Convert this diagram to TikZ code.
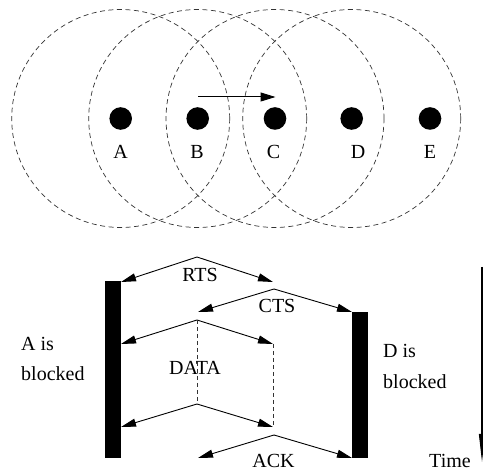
\documentclass[tikz,border=0pt]{standalone}
\usepackage{fontspec}
\setmainfont{Liberation Serif}
\usetikzlibrary{arrows.meta}
\begin{document}
\begin{tikzpicture}[x=1pt,y=-1pt,
  font=\fontsize{20}{30}\selectfont,
  dot/.style={circle,fill=black,inner sep=0pt,minimum size=22.6pt},
  coverage/.style={dash pattern=on 5pt off 3.5pt,line width=0.7pt,draw=black!80},
  lbl/.style={anchor=base,inner sep=0pt},
  lblw/.style={anchor=base west,inner sep=0pt},
  msg/.style={-{Triangle[length=15pt,width=8pt]},line width=0.9pt},
  bar/.style={fill=black,minimum width=16pt,inner sep=0pt},
  hold/.style={dash pattern=on 4pt off 3pt,line width=0.7pt,draw=black!80}]
\useasboundingbox (0,0) rectangle (483,470);

% stations and their transmission ranges
\node[dot] (A) at (120.7,118.5) {};
\node[dot] (B) at (197.7,118.5) {};
\node[dot] (C) at (275,118.5) {};
\node[dot] (D) at (351.7,118.5) {};
\node[dot] (E) at (430,118.5) {};
\foreach \s in {A,B,C,D}
  \draw[coverage] (\s.center) circle[radius=109pt];

\node[lbl] (labA) at (120.7,159) {A};
\node[lbl] (labB) at (197,159) {B};
\node[lbl] (labC) at (273.5,159) {C};
\node[lbl] (labD) at (358,159) {D};
\node[lbl] (labE) at (430,159) {E};

% B sends to C
\coordinate (sendS) at (198,97);
\coordinate (sendT) at (275.5,97);
\draw[-{Triangle[length=15pt,width=9pt]},line width=1pt] (sendS) -- (sendT);

% blocking intervals
\node[bar,minimum height=177pt] (barA) at (113,369.5) {};
\node[bar,minimum height=146pt] (barD) at (360,385) {};

% message exchange
\coordinate (rtsTop) at (197,257);
\coordinate (rtsL) at (121,282);
\coordinate (rtsR) at (273,282);
\coordinate (ctsTop) at (274,289);
\coordinate (ctsL) at (198,312);
\coordinate (ctsR) at (352,312);
\coordinate (dataTop) at (197,320);
\coordinate (dataL) at (121,344);
\coordinate (dataR) at (273,344);
\coordinate (dataBot) at (197,404);
\coordinate (dataBL) at (121,427);
\coordinate (dataBR) at (273,427);
\coordinate (ackTop) at (274,435);
\coordinate (ackL) at (198,458);
\coordinate (ackR) at (352,458);

\draw[msg] (rtsTop) -- (rtsL);
\draw[msg] (rtsTop) -- (rtsR);
\draw[msg] (ctsTop) -- (ctsL);
\draw[msg] (ctsTop) -- (ctsR);
\draw[msg] (dataTop) -- (dataL);
\draw[msg] (dataTop) -- (dataR);
\draw[msg] (dataBot) -- (dataBL);
\draw[msg] (dataBot) -- (dataBR);
\draw[msg] (ackTop) -- (ackL);
\draw[msg] (ackTop) -- (ackR);
\draw[hold] (dataTop) -- (dataBot);
\draw[hold] (dataR) -- (dataBR);

\node[lbl] (rts) at (200,282) {RTS};
\node[lbl] (cts) at (277,313) {CTS};
\node[lbl] (data) at (195,375) {DATA};
\node[lbl] (ack) at (273.5,468) {ACK};

\node[lblw] (ablk1) at (21,351) {A is};
\node[lblw] (ablk2) at (21,381) {blocked};
\node[lblw] (dblk1) at (383,358) {D is};
\node[lblw] (dblk2) at (383,389) {blocked};

% time axis
\coordinate (t0) at (482,267);
\coordinate (t1) at (482,462);
\draw[-{Triangle[length=28pt,width=6pt]},line width=1.1pt] (t0) -- (t1);
\node[lbl] (time) at (450,468) {Time};
\end{tikzpicture}
\end{document}
